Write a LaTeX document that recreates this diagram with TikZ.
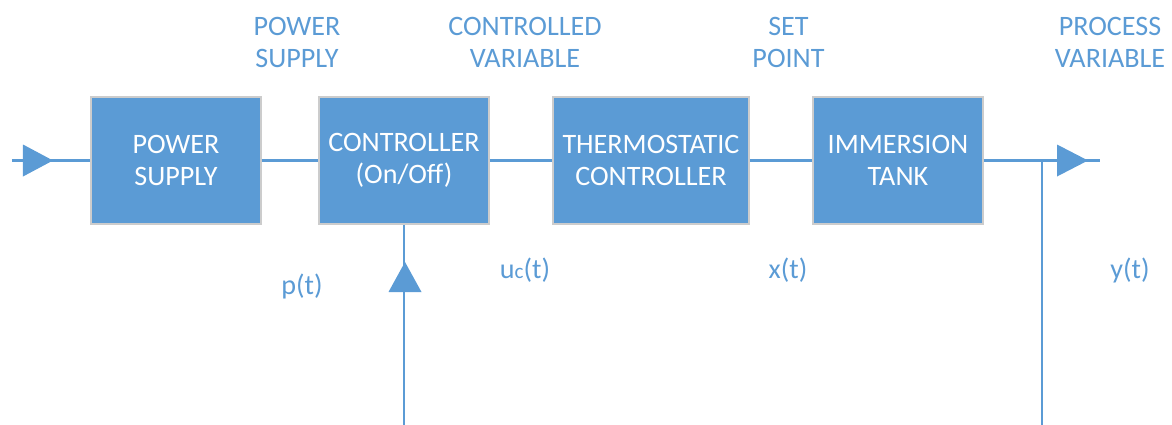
\documentclass[tikz,border=0pt]{standalone}
\usepackage{fontspec}
\setmainfont{Carlito}
\usetikzlibrary{positioning}
\definecolor{blockblue}{HTML}{5B9BD5}

\begin{document}
\begin{tikzpicture}[
	block/.style={fill=blockblue,draw=black!20,line width=0.3pt,text=white,align=center,minimum width=1.70cm,minimum height=1.27cm,inner sep=0pt,font=\fontsize{8}{9.1}\selectfont},
	lbl/.style={text=blockblue,align=center,inner sep=0pt,font=\fontsize{8}{9.1}\selectfont},
	wire/.style={draw=blockblue,line width=0.6pt},
	tri/.style={fill=blockblue}
]
\useasboundingbox (0,0) rectangle (11.72,-4.24);
\node[block] (ps) at (1.76,-1.605) {POWER\\SUPPLY};
\node[block] (ctrl) at (4.04,-1.605) {CONTROLLER\\(On/Off)};
\node[block,minimum width=1.96cm] (thermo) at (6.51,-1.605) {THERMOSTATIC\\CONTROLLER};
\node[block] (tank) at (8.98,-1.605) {IMMERSION\\TANK};
\coordinate (in) at (0.12,-1.605);
\coordinate (out) at (11.00,-1.605);
\coordinate (fb) at (10.42,-1.605);
\coordinate (bot) at (10.42,-4.262);
\draw[wire] (in) -- (ps);
\draw[wire] (ps) -- (ctrl);
\draw[wire] (ctrl) -- (thermo);
\draw[wire] (thermo) -- (tank);
\draw[wire] (tank) -- (out);
\draw[wire] (fb) -- (bot) -- (ctrl.south |- bot) -- (ctrl.south);
\fill[tri] (0.23,-1.445) -- (0.53,-1.605) -- (0.23,-1.765) -- cycle;
\fill[tri] (10.57,-1.445) -- (10.88,-1.605) -- (10.57,-1.765) -- cycle;
\fill[tri] (3.885,-2.92) -- (4.05,-2.62) -- (4.215,-2.92) -- cycle;
\node[lbl] (lps) at (2.97,-0.42) {POWER\\SUPPLY};
\node[lbl] (lcv) at (5.25,-0.42) {CONTROLLED\\VARIABLE};
\node[lbl] (lsp) at (7.885,-0.42) {SET\\POINT};
\node[lbl] (lpv) at (11.10,-0.42) {PROCESS\\VARIABLE};
\node[lbl] (pt) at (3.02,-2.86) {p(t)};
\node[lbl] (uct) at (5.25,-2.70) {u{\fontsize{6}{6}\selectfont c}(t)};
\node[lbl] (xt) at (7.88,-2.70) {x(t)};
\node[lbl] (yt) at (11.30,-2.70) {y(t)};
\end{tikzpicture}
\end{document}
